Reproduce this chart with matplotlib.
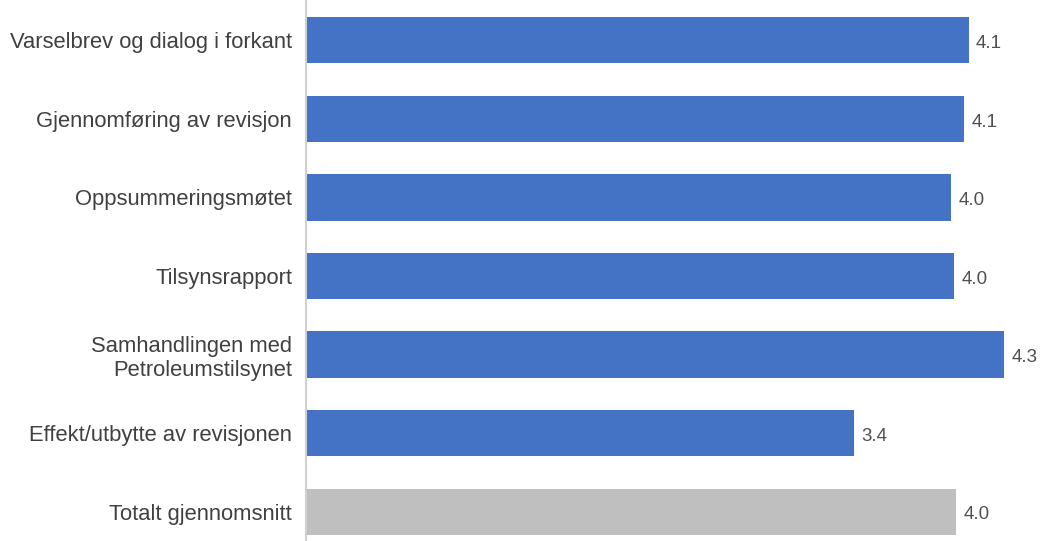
import matplotlib
matplotlib.use("Agg")
import matplotlib.pyplot as plt

categories = [
    "Varselbrev og dialog i forkant",
    "Gjennomføring av revisjon",
    "Oppsummeringsmøtet",
    "Tilsynsrapport",
    "Samhandlingen med\nPetroleumstilsynet",
    "Effekt/utbytte av revisjonen",
    "Totalt gjennomsnitt",
]
values = [4.09, 4.06, 3.98, 4.00, 4.31, 3.38, 4.01]
colors = ["#4472C4"] * 6 + ["#BFBFBF"]

plt.rcParams['font.family'] = ['Liberation Sans', 'DejaVu Sans']

fig = plt.figure(figsize=(10.45, 5.41), dpi=100)
ax = fig.add_axes([306 / 1045, -10 / 541, 739 / 1045, 550 / 541])

y = list(range(len(categories)))
ax.barh(y, values, height=0.59, color=colors)
ax.set_ylim(len(categories) - 0.5, -0.5)
ax.set_xlim(0, 4.56)

for yi, v in zip(y, values):
    ax.text(v + 0.045, yi + 0.04, f"{v:.1f}", va="center", ha="left",
            fontsize=13.5, color="#505050")

ax.set_yticks(y)
ax.set_yticklabels(categories, fontsize=15.8, color="#404040",
                   linespacing=1.2)
ax.tick_params(axis="y", length=0, pad=10)
ax.set_xticks([])
for s in ["top", "right", "bottom"]:
    ax.spines[s].set_visible(False)
ax.spines["left"].set_color("#D0D0D0")
ax.spines["left"].set_linewidth(1.5)

fig.savefig("out.png", dpi=100)
